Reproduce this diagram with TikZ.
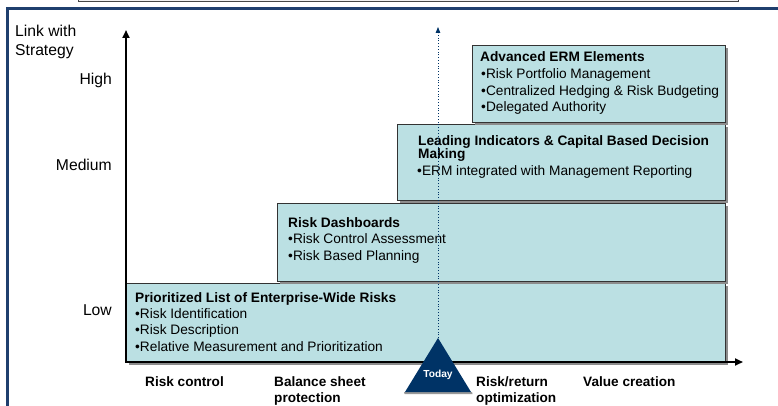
\documentclass[tikz,border=0pt]{standalone}
\usepackage{fontspec}
\setmainfont{Liberation Sans}
\usetikzlibrary{arrows.meta, shadows}

\definecolor{boxfill}{HTML}{BBE0E3}
\definecolor{navy}{HTML}{003366}
\definecolor{framecol}{HTML}{1F3F6E}

\begin{document}
\begin{tikzpicture}[x=1pt, y=-1pt]

% Define styles
\tikzstyle{stagebox}=[draw=black!80, fill=boxfill, line width=0.9pt, inner sep=0pt, anchor=north west,
  general shadow={fill=black!45, shadow xshift=2.5pt, shadow yshift=-2.5pt}]
\tikzstyle{boxtitle}=[font=\fontsize{13.7}{16}\selectfont\bfseries, inner sep=0pt, anchor=base west]
\tikzstyle{boxitem}=[font=\fontsize{13.7}{16}\selectfont, inner sep=0pt, anchor=base west]
\tikzstyle{levellabel}=[font=\fontsize{15.7}{18}\selectfont, inner sep=0pt, anchor=base east]
\tikzstyle{phase}=[font=\fontsize{13.6}{16}\selectfont\bfseries, inner sep=0pt, anchor=base west]
\tikzstyle{axisline}=[line width=2.2pt, {Triangle[length=8pt, width=7pt]}-{Triangle[length=8pt, width=7pt]}]
\tikzstyle{todayline}=[navy, dotted, line width=0.8pt, -{Triangle[length=6pt, width=4.5pt]}]

% Page size
\useasboundingbox (0,0) rectangle (778,406);
\clip (0,0) rectangle (778,406);

% Header strip and frame
\draw[fill=gray!12, draw=gray!55!black, line width=0.8pt] (78,-6) rectangle (738,1.5);
\draw[framecol, line width=2.6pt] (7.5,420) |- (800,8.5);

% Stage boxes, lowest level first
\node[stagebox, minimum width=599pt, minimum height=79pt] (prio) at (126,283) {};
\node[stagebox, minimum width=448pt, minimum height=78pt] (dash) at (277,203) {};
\node[stagebox, minimum width=328pt, minimum height=76pt] (lead) at (397,124) {};
\node[stagebox, minimum width=253pt, minimum height=77pt] (adv) at (472,45) {};

% Box texts
\node[boxtitle] (priot) at (135,302) {Prioritized List of Enterprise-Wide Risks};
\foreach \i/\y/\t in {1/318/Risk Identification, 2/334/Risk Description,
                      3/351/Relative Measurement and Prioritization}
  \node[boxitem] (prio\i) at (135,\y) {•\t};

\node[boxtitle] (dasht) at (288,227) {Risk Dashboards};
\foreach \i/\y/\t in {1/243/Risk Control Assessment, 2/260/Risk Based Planning}
  \node[boxitem] (dash\i) at (288,\y) {•\t};

\node[boxtitle] (leadt) at (418,145.5) {Leading Indicators \& Capital Based Decision};
\node[boxtitle] (leadt2) at (418,158.5) {Making};
\node[boxitem] (lead1) at (417,175.5) {•ERM integrated with Management Reporting};

\node[boxtitle] (advt) at (480,62) {Advanced ERM Elements};
\foreach \i/\y/\t in {1/79/Risk Portfolio Management, 2/96/Centralized Hedging \& Risk Budgeting,
                      3/112/Delegated Authority}
  \node[boxitem] (adv\i) at (481,\y) {•\t};

% Axes
\coordinate (origin) at (126,362);
\coordinate (ytop) at (126,30);
\coordinate (xend) at (743,362);
\draw[axisline] (ytop) -- (origin) -- (xend);

% Level labels
\node[levellabel, anchor=base west] (link1) at (15,36.5) {Link with};
\node[levellabel, anchor=base west] (link2) at (15,55.5) {Strategy};
\node[levellabel] (high) at (112,84.5) {High};
\node[levellabel] (medium) at (112,170.5) {Medium};
\node[levellabel] (low) at (112,315.5) {Low};

% Phase labels
\node[phase] (ph1) at (145,386.5) {Risk control};
\node[phase] (ph2) at (274,386.5) {Balance sheet};
\node[phase] (ph2b) at (274,402) {protection};
\node[phase] (ph3) at (476,386.5) {Risk/return};
\node[phase] (ph3b) at (476,402) {optimization};
\node[phase] (ph4) at (583,386.5) {Value creation};

% Today marker
\coordinate (apex) at (438,338);
\coordinate (todaytop) at (438,27);
\draw[todayline] (apex) -- (todaytop);
\fill[black!40] (404,392) -- (472,392) -- (472.5,394) -- (404.5,394) -- cycle;
\fill[navy] (apex) -- (405,392) -- (471,392) -- cycle;
\node[font=\fontsize{10.2}{12}\selectfont\bfseries, text=white, inner sep=0pt] (today) at (438,375) {Today};

\end{tikzpicture}
\end{document}
